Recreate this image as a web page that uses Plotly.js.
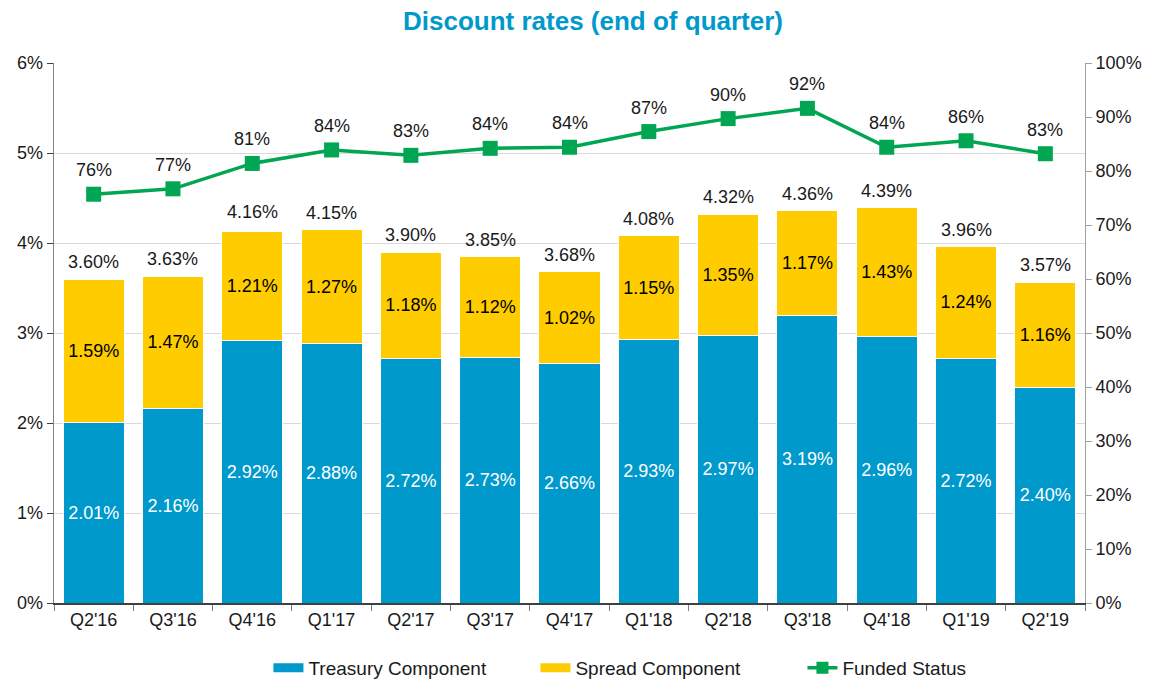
<!DOCTYPE html>
<html>
<head>
<meta charset="utf-8">
<script src="https://cdn.plot.ly/plotly-3.0.1.min.js"></script>
<style>html,body{margin:0;padding:0;background:#fff;}#chart{width:1156px;height:681px;}</style>
</head>
<body>
<div id="chart"></div>
<script>
const categories = ["Q2'16","Q3'16","Q4'16","Q1'17","Q2'17","Q3'17","Q4'17","Q1'18","Q2'18","Q3'18","Q4'18","Q1'19","Q2'19"];
const treasury = [2.01,2.16,2.92,2.88,2.72,2.73,2.66,2.93,2.97,3.19,2.96,2.72,2.40];
const spread = [1.59,1.47,1.21,1.27,1.18,1.12,1.02,1.15,1.35,1.17,1.43,1.24,1.16];
const totals = [3.60,3.63,4.16,4.15,3.90,3.85,3.68,4.08,4.32,4.36,4.39,3.96,3.57];
const funded = [75.7,76.7,81.4,83.9,82.9,84.2,84.4,87.3,89.7,91.6,84.4,85.6,83.2];
const fundedLabels = ["76%","77%","81%","84%","83%","84%","84%","87%","90%","92%","84%","86%","83%"];

const FONT = "Liberation Sans, Arial, sans-serif";
const BLUE = "#0099cc";
const YELLOW = "#ffcc00";
const GREEN = "#00a651";
const FS = 18;

const pct = v => v.toFixed(2) + "%";

const traces = [
  {
    type: "bar", name: "Treasury Component", x: categories, y: treasury,
    marker: {color: BLUE, line: {color: "#ffffff", width: 1}},
    text: treasury.map(pct), textposition: "inside", insidetextanchor: "middle",
    textangle: 0, constraintext: "none",
    textfont: {color: "#ffffff", size: FS, family: FONT},
    hoverinfo: "skip", showlegend: false
  },
  {
    type: "bar", name: "Spread Component", x: categories, y: spread,
    marker: {color: YELLOW, line: {color: "#ffffff", width: 1}},
    text: spread.map(pct), textposition: "inside", insidetextanchor: "middle",
    textangle: 0, constraintext: "none",
    textfont: {color: "#000000", size: FS, family: FONT},
    hoverinfo: "skip", showlegend: false
  },
  {
    type: "scatter", mode: "lines+markers", name: "Funded Status",
    x: categories, y: funded, yaxis: "y2",
    line: {color: GREEN, width: 3.5},
    marker: {symbol: "square", size: 15, color: GREEN},
    hoverinfo: "skip", showlegend: false
  },
  // legend-only entries (wide rectangular swatches like the reference)
  {type: "scatter", mode: "lines", name: "Treasury Component", x: [categories[0]], y: [null],
   line: {color: BLUE, width: 9}, hoverinfo: "skip", showlegend: true},
  {type: "scatter", mode: "lines", name: "Spread Component", x: [categories[0]], y: [null],
   line: {color: YELLOW, width: 9}, hoverinfo: "skip", showlegend: true},
  {type: "scatter", mode: "lines+markers", name: "Funded Status", x: [categories[0]], y: [null],
   line: {color: GREEN, width: 3.5}, marker: {symbol: "square", size: 12, color: GREEN},
   hoverinfo: "skip", showlegend: true}
];

const annotations = [];
categories.forEach((c, i) => {
  annotations.push({
    x: c, y: totals[i], xref: "x", yref: "y", text: pct(totals[i]),
    showarrow: false, yanchor: "bottom", yshift: 5,
    font: {size: FS, color: "#1a1a1a", family: FONT}
  });
  annotations.push({
    x: c, y: funded[i], xref: "x", yref: "y2", text: fundedLabels[i],
    showarrow: false, yanchor: "bottom", yshift: 12,
    font: {size: FS, color: "#1a1a1a", family: FONT}
  });
});

const layout = {
  width: 1156, height: 681,
  margin: {l: 54, r: 71, t: 63, b: 78},
  paper_bgcolor: "#ffffff", plot_bgcolor: "#ffffff",
  font: {family: FONT, size: FS, color: "#1a1a1a"},
  title: {
    text: "<b>Discount rates (end of quarter)</b>",
    font: {family: FONT, size: 26, color: BLUE},
    x: 0.513, xanchor: "center", y: 0.97, yanchor: "middle", yref: "container"
  },
  barmode: "stack", bargap: 0.23,
  xaxis: {
    type: "category", range: [-0.5, 12.5], autorange: false,
    showline: true, linecolor: "#404040", linewidth: 1.5,
    ticks: "outside", ticklen: 6, tickcolor: "#808080",
    tickson: "boundaries", showgrid: false,
    tickfont: {size: FS, color: "#1a1a1a"}
  },
  yaxis: {
    range: [0, 6], dtick: 1, ticksuffix: "%",
    showline: true, linecolor: "#808080", linewidth: 1.5,
    ticks: "outside", ticklen: 6, tickcolor: "#404040",
    showgrid: true, gridcolor: "#d9d9d9", gridwidth: 1,
    zeroline: false, tickfont: {size: FS, color: "#1a1a1a"}
  },
  yaxis2: {
    range: [0, 100], dtick: 10, ticksuffix: "%", overlaying: "y", side: "right",
    showline: true, linecolor: "#a0a0a0", linewidth: 1,
    ticks: "outside", ticklen: 6, tickcolor: "#a0a0a0",
    showgrid: false, zeroline: false, tickfont: {size: FS, color: "#1a1a1a"}
  },
  showlegend: true,
  legend: {
    orientation: "h", xref: "paper", x: 0.208, xanchor: "left",
    yref: "container", y: 0.047, yanchor: "top",
    font: {size: 19, color: "#1a1a1a"},
    entrywidth: 222, entrywidthmode: "pixels",
    traceorder: "normal", itemwidth: 30
  },
  annotations: annotations
};

Plotly.newPlot("chart", traces, layout, {displayModeBar: false, staticPlot: true});
</script>
</body>
</html>
